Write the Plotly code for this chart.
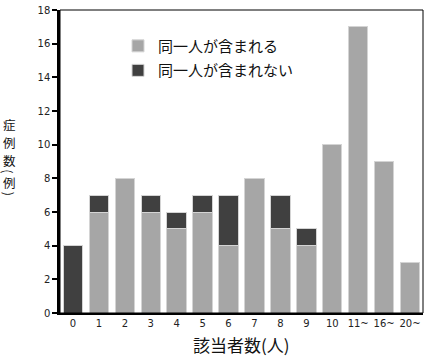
import plotly.graph_objects as go

categories = ["0", "1", "2", "3", "4", "5", "6", "7", "8", "9", "10", "11~", "16~", "20~"]
included = [0, 6, 8, 6, 5, 6, 4, 8, 5, 4, 10, 17, 9, 3]
not_included = [4, 1, 0, 1, 1, 1, 3, 0, 2, 1, 0, 0, 0, 0]
y_ticks = [0, 2, 4, 6, 8, 10, 12, 14, 16, 18]

JP = "Noto Sans CJK JP"
NUM = "DejaVu Sans"

fig = go.Figure()
fig.add_trace(go.Bar(
    x=categories, y=included, name="同一人が含まれる", legendgroup="a",
    marker=dict(color="#a6a6a6", line=dict(color="#d4d4d4", width=1)),
))
fig.add_trace(go.Bar(
    x=categories, y=not_included, name="同一人が含まれない", legendgroup="b",
    marker=dict(color="#404040", line=dict(color="#d4d4d4", width=1)),
))

L, R, T, B = 60, 4, 4, 47
W, H = 427, 360
pw, ph = W - L - R, H - T - B

def px(xp):
    return (xp - L) / pw

def py(yp):
    return (H - B - yp) / ph

annotations = []
# y-axis title "症例数(例)", written vertically; parentheses turned sideways
for ch, yp, angle in [("症", 121, 0), ("例", 139, 0), ("数", 157, 0),
                      ("(", 168.5, 90), ("例", 180, 0), (")", 191.5, 90)]:
    annotations.append(dict(text=ch, x=px(9), y=py(yp), xref="paper", yref="paper",
                            xanchor="center", yanchor="middle", showarrow=False,
                            textangle=angle,
                            font=dict(family=JP, size=12.5, color="#111111")))
annotations.append(dict(text="該当者数(人)", x=px(241), y=py(345), xref="paper", yref="paper",
                        xanchor="center", yanchor="middle", showarrow=False,
                        font=dict(family=JP, size=17, color="#111111")))

fig.update_layout(
    width=W, height=H,
    margin=dict(l=L, r=R, t=T, b=B),
    barmode="stack", bargap=0.25,
    plot_bgcolor="white", paper_bgcolor="white",
    showlegend=True,
    legend=dict(x=px(118), y=py(24), xanchor="left", yanchor="top",
                traceorder="grouped", tracegroupgap=2,
                bgcolor="rgba(0,0,0,0)",
                font=dict(family=JP, size=15, color="#111111")),
    annotations=annotations,
    shapes=[dict(type="rect", xref="paper", yref="paper", x0=0, x1=1, y0=0, y1=1,
                 line=dict(color="black", width=1), layer="above")],
    xaxis=dict(showgrid=False, showline=True, linecolor="black", linewidth=2,
               ticks="", tickfont=dict(family=NUM, size=10, color="#222222"),
               range=[-0.5, len(categories) - 0.5]),
    yaxis=dict(range=[0, 18], tickvals=y_ticks, showgrid=False, zeroline=False,
               showline=True, linecolor="black", linewidth=2.5,
               ticks="outside", ticklen=5, tickwidth=1.5, tickcolor="black",
               ticklabeloverflow="allow",
               tickfont=dict(family=NUM, size=10, color="#222222")),
)

fig.write_html("out.html")
